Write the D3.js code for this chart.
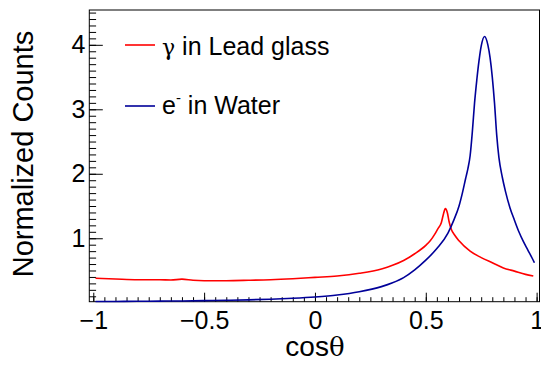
<!DOCTYPE html>
<html>
<head>
<meta charset="utf-8">
<script src="https://cdn.jsdelivr.net/npm/d3@7"></script>
<style>
  body { margin: 0; background: #fff; }
  text { font-family: "Liberation Sans", Arial, sans-serif; fill: #000; }
  tspan.greek { font-family: "DejaVu Serif", "Liberation Serif", serif; }
</style>
</head>
<body>
<svg width="541" height="365"></svg>
<script>
// data
const leadX = [-0.99, -0.9, -0.8, -0.7, -0.65, -0.6, -0.55, -0.5, -0.4, -0.3, -0.2, -0.1, 0, 0.1, 0.2, 0.3, 0.35, 0.4, 0.45, 0.5, 0.52, 0.54, 0.555, 0.57, 0.58, 0.588, 0.597, 0.605, 0.615, 0.63, 0.65, 0.7, 0.75, 0.8, 0.85, 0.9, 0.95, 0.985];
const leadY = [0.38, 0.368, 0.357, 0.357, 0.352, 0.366, 0.348, 0.342, 0.342, 0.348, 0.357, 0.373, 0.394, 0.415, 0.456, 0.523, 0.58, 0.655, 0.76, 0.89, 0.96, 1.06, 1.15, 1.24, 1.38, 1.46, 1.4, 1.26, 1.14, 1.05, 0.96, 0.8, 0.7, 0.62, 0.54, 0.49, 0.44, 0.415];

const waterX = [-0.99, -0.9, -0.8, -0.7, -0.6, -0.5, -0.4, -0.3, -0.2, -0.1, 0, 0.1, 0.2, 0.3, 0.35, 0.4, 0.45, 0.5, 0.55, 0.6, 0.625, 0.65, 0.665, 0.68, 0.69, 0.7, 0.71, 0.72, 0.73, 0.74, 0.75, 0.765, 0.78, 0.79, 0.8, 0.81, 0.82, 0.83, 0.845, 0.86, 0.88, 0.9, 0.92, 0.94, 0.96, 0.98, 0.99];
const waterY = [0.018, 0.02, 0.022, 0.025, 0.028, 0.032, 0.038, 0.045, 0.055, 0.07, 0.09, 0.12, 0.17, 0.25, 0.31, 0.39, 0.51, 0.66, 0.84, 1.08, 1.27, 1.5, 1.7, 1.93, 2.08, 2.28, 2.65, 3.1, 3.45, 3.75, 3.98, 4.13, 4.0, 3.8, 3.5, 3.1, 2.6, 2.25, 1.95, 1.72, 1.47, 1.28, 1.1, 0.95, 0.82, 0.69, 0.62];

const xTicks = [-1, -0.5, 0, 0.5, 1];
const xTickLabels = ["\u22121", "\u22120.5", "0", "0.5", "1"];
const yTicks = [1, 2, 3, 4];
const yTickLabels = ["1", "2", "3", "4"];

const svg = d3.select("svg");

const frameLeft = 89.3, frameRight = 539.5, frameTop = 10, frameBottom = 301.7;

const x = d3.scaleLinear().domain([-1.018, 1.013]).range([frameLeft, frameRight]);
const y = d3.scaleLinear().domain([0.016, 4.54]).range([frameBottom, frameTop]);

// minor ticks
const xMinor = d3.range(-1, 1.0001, 0.05).map(v => +v.toFixed(2));
const yMinor = d3.range(0.1, 4.5001, 0.1).map(v => +v.toFixed(1));

svg.append("g")
  .attr("transform", `translate(0,${frameBottom})`)
  .call(d3.axisBottom(x).tickValues(xMinor).tickSize(-4.5).tickFormat(""))
  .call(g => g.select(".domain").remove());

svg.append("g")
  .attr("transform", `translate(${frameLeft},0)`)
  .call(d3.axisLeft(y).tickValues(yMinor).tickSize(-6.8).tickFormat(""))
  .call(g => g.select(".domain").remove());

const xAxis = svg.append("g")
  .attr("transform", `translate(0,${frameBottom})`)
  .call(d3.axisBottom(x).tickValues(xTicks).tickSize(-9).tickPadding(10)
    .tickFormat((d, i) => xTickLabels[i]))
  .call(g => g.select(".domain").remove());
xAxis.selectAll("text").style("font-size", "25px");
xAxis.attr("font-family", null);

const yAxis = svg.append("g")
  .attr("transform", `translate(${frameLeft},0)`)
  .call(d3.axisLeft(y).tickValues(yTicks).tickSize(-13.5).tickPadding(4)
    .tickFormat((d, i) => yTickLabels[i]))
  .call(g => g.select(".domain").remove());
yAxis.selectAll("text").style("font-size", "25px");
yAxis.attr("font-family", null);

svg.selectAll(".tick line").attr("stroke", "#000");

// frame
svg.append("rect")
  .attr("x", frameLeft).attr("y", frameTop)
  .attr("width", frameRight - frameLeft).attr("height", frameBottom - frameTop)
  .attr("fill", "none").attr("stroke", "#000").attr("stroke-width", 1);

// curves
const line = d3.line()
  .x(d => x(d[0]))
  .y(d => y(d[1]))
  .curve(d3.curveMonotoneX);

svg.append("path")
  .datum(leadX.map((v, i) => [v, leadY[i]]))
  .attr("d", line)
  .attr("fill", "none")
  .attr("stroke", "#ff0000")
  .attr("stroke-width", 1.6);

svg.append("path")
  .datum(waterX.map((v, i) => [v, waterY[i]]))
  .attr("d", line)
  .attr("fill", "none")
  .attr("stroke", "#000099")
  .attr("stroke-width", 1.6);

// axis titles
const xTitle = svg.append("text")
  .attr("x", x(0)).attr("y", 356)
  .attr("text-anchor", "middle")
  .style("font-size", "28px");
xTitle.append("tspan").text("cos");
xTitle.append("tspan").attr("class", "greek").style("font-size", "26px").text("\u03b8");

svg.append("text")
  .attr("transform", "translate(33,154) rotate(-90)")
  .attr("text-anchor", "middle")
  .style("font-size", "29px")
  .text("Normalized Counts");

// legend
const legend = svg.append("g");
legend.append("line")
  .attr("x1", 125).attr("x2", 155).attr("y1", 45).attr("y2", 45)
  .attr("stroke", "#ff0000").attr("stroke-width", 1.6);
const gText = legend.append("text")
  .attr("x", 162).attr("y", 54.5)
  .style("font-size", "25px");
gText.append("tspan").attr("class", "greek").style("font-size", "22px").text("\u03b3");
gText.append("tspan").text(" in Lead glass");

legend.append("line")
  .attr("x1", 125).attr("x2", 155).attr("y1", 106).attr("y2", 106)
  .attr("stroke", "#000099").attr("stroke-width", 1.6);
const eText = legend.append("text")
  .attr("x", 162).attr("y", 113.5)
  .style("font-size", "25px");
eText.append("tspan").text("e");
eText.append("tspan").attr("dy", -11).style("font-size", "15px").text("-");
eText.append("tspan").attr("dy", 11).text(" in Water");
</script>
</body>
</html>
